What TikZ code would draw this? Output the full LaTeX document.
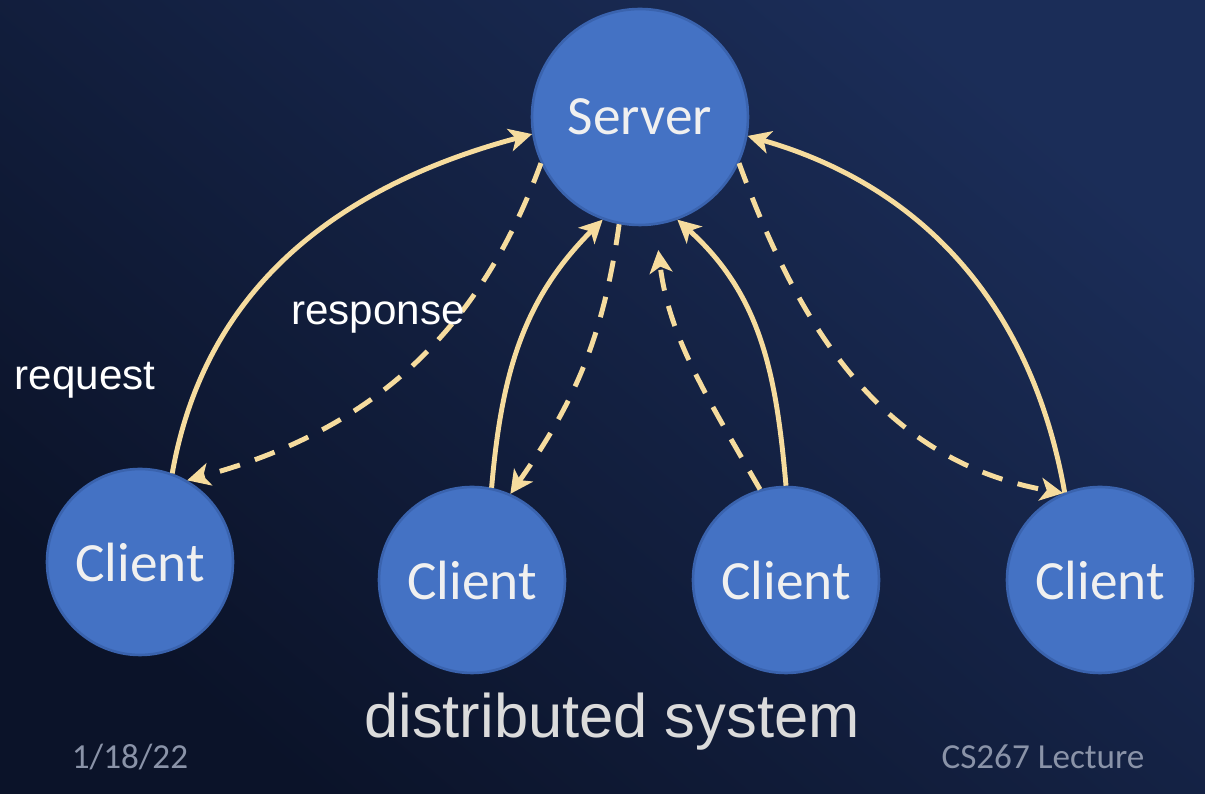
\documentclass[tikz,border=0pt]{standalone}
\usepackage{fontspec}
\setmainfont{Liberation Sans}
\newfontfamily\slidefont{Carlito}
\usetikzlibrary{arrows.meta}

\definecolor{navydark}{HTML}{0B1329}
\definecolor{navylight}{HTML}{1B2D58}
\definecolor{nodeblue}{HTML}{4472C4}
\definecolor{nodeedge}{HTML}{3A63AE}
\definecolor{msgcolor}{HTML}{F6DC9E}
\definecolor{footgray}{HTML}{8A93A8}

\tikzset{
  host/.style={circle,fill=nodeblue,draw=nodeedge,line width=1.5pt,inner sep=0pt,
    text=white!94!black,font=\slidefont\fontsize{31.5}{36}\selectfont},
  req/.style={draw=msgcolor,line width=2.8pt,
    -{Stealth[length=13pt,width=13pt,inset=3.5pt]}},
  resp/.style={req,dash pattern=on 12pt off 9pt},
  msglabel/.style={text=white,font=\fontsize{24}{28}\selectfont},
  footer/.style={text=footgray,font=\slidefont\fontsize{20}{24}\selectfont}
}

\begin{document}
\begin{tikzpicture}[x=0.02cm,y=0.02cm]
% Background of the slide
\shade[shading=axis,top color=navylight,bottom color=navydark,shading angle=-40]
  (0,0) rectangle (1205,794);
\useasboundingbox (0,0) rectangle (1205,794);

% Define the positions of the hosts
\coordinate (S) at (640,677);
\coordinate (C1) at (140,232);
\coordinate (C2) at (472,214);
\coordinate (C3) at (786,214);
\coordinate (C4) at (1100,214);

% Draw the server and the clients
\node[host,minimum size=4.32cm] (server) at (S) {Server};
\foreach \i in {1,...,4}{
  \node[host,minimum size=3.72cm] (client\i) at (C\i) {Client};
}

% Requests (solid) and responses (dashed)
\draw[req] (client1.70) to[out=80,in=195] (server.189);
\draw[resp] (server.205) to[out=250,in=15] (client1.60);
\draw[req] (client2.78) to[out=85,in=225] (server.250);
\draw[resp] (server.259) to[out=262,in=55] (client2.66);
\draw[resp,shorten >=0.5cm] (client3.106) to[out=120,in=277] (server.278);
\draw[req] (client3.90) to[out=95,in=318] (server.290);
\draw[resp] (server.335) to[out=290,in=170] (client4.113);
\draw[req] (client4.112) to[out=100,in=344] (server.350);

% Labels
\node[msglabel] (reqlabel) at (85,414) {request};
\node[msglabel] (resplabel) at (378,476) {response};
\node[text=white!86!black,font=\fontsize{35}{40}\selectfont] (title) at (612,72) {distributed system};
\node[footer] (date) at (130,37) {1/18/22};
\node[footer] (course) at (1043,37) {CS267 Lecture};
\end{tikzpicture}
\end{document}
